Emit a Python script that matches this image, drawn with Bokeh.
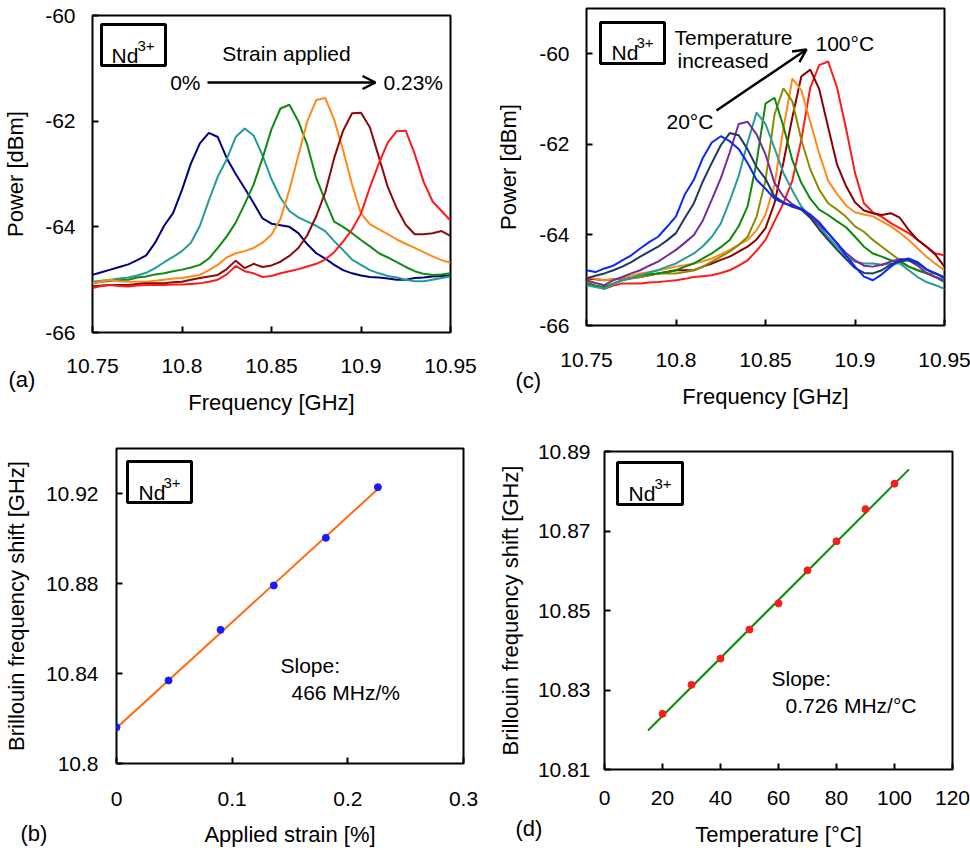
from bokeh.plotting import figure
from bokeh.layouts import column, row
from bokeh.models import (FixedTicker, CustomJSTickFormatter, Label, BoxAnnotation,
                          Arrow, OpenHead, Title)
from bokeh.embed import file_html
from bokeh.resources import INLINE

FONT = "Liberation Sans"

# ---------------- data ----------------
FREQ = [10.750, 10.755, 10.760, 10.765, 10.770, 10.775, 10.780, 10.785, 10.790, 10.795,
        10.800, 10.805, 10.810, 10.815, 10.820, 10.825, 10.830, 10.835, 10.840, 10.845,
        10.850, 10.855, 10.860, 10.865, 10.870, 10.875, 10.880, 10.885, 10.890, 10.895,
        10.900, 10.905, 10.910, 10.915, 10.920, 10.925, 10.930, 10.935, 10.940, 10.945,
        10.950]

# (a) spectra under strain, 0 % -> 0.23 %
A_S0 = [-64.91, -64.86, -64.81, -64.76, -64.71, -64.63, -64.54, -64.30, -63.98, -63.74,
        -63.30, -62.80, -62.42, -62.22, -62.30, -62.70, -63.00, -63.27, -63.55, -63.84,
        -63.94, -63.97, -64.00, -64.12, -64.33, -64.50, -64.60, -64.72, -64.82, -64.88,
        -64.92, -64.95, -64.96, -64.98, -65.00, -65.00, -64.97, -64.96, -64.94, -64.93,
        -64.92]
A_S1 = [-65.04, -65.02, -65.00, -64.98, -64.96, -64.92, -64.87, -64.78, -64.67, -64.57,
        -64.46, -64.30, -63.98, -63.50, -63.05, -62.72, -62.30, -62.14, -62.27, -62.65,
        -63.10, -63.45, -63.70, -63.82, -63.90, -63.98, -64.08, -64.27, -64.44, -64.62,
        -64.72, -64.82, -64.88, -64.93, -64.96, -65.00, -65.03, -65.03, -65.00, -64.97,
        -64.94]
A_S2 = [-65.07, -65.04, -65.02, -65.01, -65.00, -64.96, -64.94, -64.90, -64.88, -64.84,
        -64.81, -64.77, -64.72, -64.60, -64.40, -64.18, -63.92, -63.57, -63.20, -62.70,
        -62.15, -61.76, -61.69, -62.00, -62.45, -63.08, -63.50, -63.90, -64.00, -64.12,
        -64.25, -64.37, -64.50, -64.58, -64.67, -64.76, -64.84, -64.89, -64.91, -64.90,
        -64.88]
A_S3 = [-65.07, -65.03, -65.00, -65.03, -65.04, -65.04, -65.04, -65.02, -65.00, -64.98,
        -64.97, -64.94, -64.91, -64.82, -64.72, -64.58, -64.50, -64.46, -64.40, -64.30,
        -64.15, -63.85, -63.30, -62.65, -62.00, -61.60, -61.56, -61.97, -62.55, -63.20,
        -63.75, -63.95, -64.05, -64.14, -64.24, -64.32, -64.40, -64.48, -64.56, -64.63,
        -64.68]
A_S4 = [-65.13, -65.11, -65.10, -65.10, -65.10, -65.08, -65.07, -65.07, -65.07, -65.05,
        -65.04, -65.00, -64.97, -64.94, -64.91, -64.80, -64.64, -64.78, -64.70, -64.76,
        -64.73, -64.66, -64.55, -64.40, -64.16, -63.80, -63.35, -62.70, -62.18, -61.85,
        -61.84, -62.12, -62.68, -63.25, -63.65, -63.96, -64.14, -64.14, -64.12, -64.08,
        -64.17]
A_S5 = [-65.16, -65.12, -65.10, -65.12, -65.13, -65.11, -65.10, -65.10, -65.10, -65.09,
        -65.09, -65.08, -65.07, -65.04, -65.00, -64.90, -64.74, -64.84, -64.88, -64.95,
        -64.93, -64.88, -64.84, -64.80, -64.75, -64.70, -64.62, -64.48, -64.28, -64.05,
        -63.75, -63.25, -62.80, -62.40, -62.19, -62.18, -62.62, -63.15, -63.52, -63.70,
        -63.88]
A_COLORS = ["#00007f", "#259a9a", "#108a10", "#ff8a1a", "#8b0a0a", "#ff1a1a"]

# (c) spectra at 20, 30, ... 100 degC
C_T20 = [-64.78, -64.82, -64.74, -64.68, -64.56, -64.45, -64.30, -64.16, -64.04, -63.82,
         -63.59, -63.10, -62.78, -62.30, -61.96, -61.82, -61.93, -62.10, -62.41, -62.78,
         -62.98, -63.20, -63.30, -63.35, -63.42, -63.55, -63.72, -63.96, -64.18, -64.45,
         -64.70, -64.92, -65.00, -64.87, -64.70, -64.56, -64.52, -64.60, -64.76, -64.85,
         -64.95]
C_T30 = [-64.96, -64.90, -64.85, -64.78, -64.70, -64.60, -64.48, -64.37, -64.26, -64.12,
         -63.96, -63.62, -63.30, -62.82, -62.41, -62.02, -61.75, -61.80, -62.11, -62.50,
         -62.76, -63.15, -63.28, -63.38, -63.44, -63.62, -63.88, -64.11, -64.33, -64.53,
         -64.73, -64.84, -64.85, -64.78, -64.65, -64.58, -64.56, -64.63, -64.77, -64.85,
         -64.95]
C_T40 = [-65.00, -65.06, -65.11, -65.00, -64.93, -64.85, -64.78, -64.68, -64.59, -64.46,
         -64.33, -64.17, -64.00, -63.68, -63.22, -62.75, -62.18, -61.55, -61.50, -61.78,
         -62.22, -62.85, -63.15, -63.32, -63.44, -63.58, -63.78, -63.96, -64.19, -64.40,
         -64.56, -64.68, -64.70, -64.66, -64.59, -64.53, -64.56, -64.68, -64.84, -64.93,
         -65.00]
C_T50 = [-65.11, -65.15, -65.19, -65.08, -65.00, -64.95, -64.89, -64.83, -64.78, -64.70,
         -64.63, -64.52, -64.41, -64.25, -64.04, -63.75, -63.25, -62.70, -61.96, -61.30,
         -61.55, -62.08, -62.63, -63.02, -63.37, -63.60, -63.81, -64.05, -64.26, -64.47,
         -64.59, -64.63, -64.63, -64.66, -64.63, -64.63, -64.78, -64.93, -65.04, -65.11,
         -65.19]
C_T60 = [-65.07, -65.12, -65.15, -65.07, -65.00, -64.95, -64.89, -64.87, -64.85, -64.82,
         -64.78, -64.70, -64.63, -64.52, -64.41, -64.27, -64.11, -63.81, -63.37, -62.40,
         -61.10, -60.97, -61.60, -62.35, -62.85, -63.20, -63.44, -63.56, -63.70, -63.83,
         -64.04, -64.26, -64.41, -64.48, -64.56, -64.59, -64.70, -64.78, -64.85, -64.93,
         -65.04]
C_T70 = [-65.04, -65.12, -65.19, -65.08, -65.00, -64.96, -64.93, -64.89, -64.85, -64.85,
         -64.85, -64.82, -64.78, -64.70, -64.59, -64.48, -64.37, -64.22, -64.04, -63.60,
         -62.80, -61.35, -60.76, -61.05, -61.90, -62.55, -63.00, -63.30, -63.44, -63.60,
         -63.81, -63.93, -64.11, -64.26, -64.41, -64.56, -64.70, -64.78, -64.85, -64.85,
         -64.93]
C_T80 = [-64.93, -64.97, -65.00, -64.98, -64.96, -64.90, -64.85, -64.82, -64.78, -64.74,
         -64.70, -64.67, -64.63, -64.58, -64.52, -64.43, -64.33, -64.22, -64.11, -63.90,
         -63.55, -62.90, -61.65, -60.55, -60.80, -61.50, -62.20, -62.80, -63.10, -63.35,
         -63.50, -63.55, -63.59, -63.70, -63.81, -63.95, -64.11, -64.30, -64.48, -64.64,
         -64.78]
C_T90 = [-64.96, -64.98, -65.00, -64.98, -64.96, -64.95, -64.93, -64.89, -64.85, -64.82,
         -64.78, -64.78, -64.78, -64.70, -64.63, -64.55, -64.48, -64.37, -64.26, -64.10,
         -63.85, -63.30, -62.40, -61.40, -60.50, -60.35, -60.78, -61.62, -62.45, -62.92,
         -63.28, -63.46, -63.52, -63.56, -63.52, -63.62, -63.89, -64.11, -64.26, -64.44,
         -64.70]
C_T100 = [-65.07, -65.13, -65.19, -65.12, -65.07, -65.07, -65.07, -65.05, -65.04, -65.02,
          -65.00, -64.97, -64.93, -64.91, -64.89, -64.84, -64.78, -64.68, -64.56, -64.35,
          -64.11, -63.70, -63.30, -62.80, -61.90, -60.75, -60.25, -60.17, -60.75, -61.65,
          -62.63, -63.30, -63.50, -63.60, -63.74, -63.85, -63.96, -64.11, -64.26, -64.41,
          -64.45]
C_COLORS = ["#0a28ff", "#1f3a60", "#7a2a9a", "#2a9a9a", "#0a8a0a", "#8c8c00",
            "#ff8a1a", "#8b0000", "#ff1a1a"]

# (b) Brillouin frequency shift vs strain
STRAIN = [0.0, 0.045, 0.090, 0.136, 0.181, 0.226]
BFS_STRAIN = [10.8161, 10.8369, 10.8594, 10.8791, 10.9003, 10.9228]
FIT_STRAIN_X = [0.0, 0.226]
FIT_STRAIN_Y = [10.8158, 10.9220]

# (d) Brillouin frequency shift vs temperature
TEMP = [20, 30, 40, 50, 60, 70, 80, 90, 100]
BFS_TEMP = [10.8240, 10.8313, 10.8379, 10.8452, 10.8518, 10.8601, 10.8674, 10.8755, 10.8819]
FIT_TEMP_X = [15, 105]
FIT_TEMP_Y = [10.8198, 10.8855]

# ---------------- helpers ----------------
def make_fig(xr, yr, frame, borders):
    fl, fr, ft, fb = frame
    ml, mr, mt, mb = borders
    p = figure(x_range=xr, y_range=yr, frame_width=fr - fl, frame_height=fb - ft,
               min_border_left=ml, min_border_right=mr, min_border_top=mt,
               min_border_bottom=mb, output_backend="svg", toolbar_location=None)
    p.frame_align = False
    p.outline_line_color = "black"
    p.outline_line_width = 2
    p.outline_line_alpha = 1
    p.xgrid.visible = False
    p.ygrid.visible = False
    p.background_fill_color = "white"
    p.border_fill_color = "white"
    return p


def style_axes(p, xticks, yticks, xlabel, ylabel, xst, xlst, yst, ylst):
    fmt = "return String(tick)"
    for ax, ticks, lab, st, lst in ((p.xaxis[0], xticks, xlabel, xst, xlst),
                                     (p.yaxis[0], yticks, ylabel, yst, ylst)):
        ax.ticker = FixedTicker(ticks=ticks)
        ax.formatter = CustomJSTickFormatter(code=fmt)
        ax.axis_label = lab
        ax.axis_line_color = None
        ax.major_tick_in = 6
        ax.major_tick_out = 0
        ax.major_tick_line_width = 2
        ax.major_tick_line_color = "black"
        ax.minor_tick_line_color = None
        ax.major_label_text_font = FONT
        ax.major_label_text_font_size = "21px"
        ax.major_label_text_color = "black"
        ax.major_label_standoff = st
        ax.axis_label_text_font = FONT
        ax.axis_label_text_font_size = "22px"
        ax.axis_label_text_font_style = "normal"
        ax.axis_label_text_color = "black"
        ax.axis_label_standoff = lst


def panel_tag(p, text, offset, standoff):
    p.add_layout(Title(text=text, align="left", offset=offset, standoff=standoff,
                       vertical_align="top", text_font=FONT, text_font_size="22px",
                       text_font_style="normal", text_color="black"), "below")


def to_data(info, px, py):
    (fl, fr, ft, fb), (x0, x1), (y0, y1) = info
    x = x0 + (px - fl) / (fr - fl) * (x1 - x0)
    y = y1 - (py - ft) / (fb - ft) * (y1 - y0)
    return x, y


def add_text(p, info, px, py, text, size, align="left", baseline="middle"):
    x, y = to_data(info, px, py)
    p.add_layout(Label(x=x, y=y, text=text, text_font=FONT, text_font_size=f"{size}px",
                       text_align=align, text_baseline=baseline, text_color="black"))


def add_nd(p, info, box, nd, sup):
    l, r, t, b = box
    x0, y0 = to_data(info, l, b)
    x1, y1 = to_data(info, r, t)
    p.add_layout(BoxAnnotation(left=x0, right=x1, bottom=y0, top=y1, fill_color=None,
                               fill_alpha=0, line_color="black", line_alpha=1,
                               line_width=3))
    add_text(p, info, nd[0], nd[1], "Nd", 21, baseline="alphabetic")
    add_text(p, info, sup[0], sup[1], "3+", 15, baseline="alphabetic")


def add_arrow(p, info, start, end):
    xs, ys = to_data(info, *start)
    xe, ye = to_data(info, *end)
    p.add_layout(Arrow(end=OpenHead(size=13, line_width=2.5, line_color="black"),
                       x_start=xs, y_start=ys, x_end=xe, y_end=ye,
                       line_width=2.5, line_color="black"))


# ---------------- panel (a) ----------------
A_FRAME = (89, 447, 15, 332)
A_INFO = (A_FRAME, (10.75, 10.95), (-66, -60))
pa = make_fig((10.75, 10.95), (-66, -60), A_FRAME, (89, 33, 15, 86))
style_axes(pa, [10.75, 10.8, 10.85, 10.9, 10.95], [-66, -64, -62, -60],
           "Frequency [GHz]", "Power [dBm]", 26, 14, 17, 14)
for ys, c in zip([A_S0, A_S1, A_S2, A_S3, A_S4, A_S5], A_COLORS):
    pa.line(FREQ, ys, line_color=c, line_width=2)
add_nd(pa, A_INFO, (98, 162, 24, 65), (108, 55), (134, 45))
add_text(pa, A_INFO, 283, 53, "Strain applied", 21, align="center")
add_text(pa, A_INFO, 197, 82, "0%", 21, align="right")
add_arrow(pa, A_INFO, (204, 82), (372, 82))
add_text(pa, A_INFO, 380, 82, "0.23%", 21)
panel_tag(pa, "(a)", -84, -102)

# ---------------- panel (c) ----------------
C_FRAME = (583, 941, 8, 325)
C_INFO = (C_FRAME, (10.75, 10.95), (-66, -59))
pc = make_fig((10.75, 10.95), (-66, -59), C_FRAME, (103, 29, 8, 93))
style_axes(pc, [10.75, 10.8, 10.85, 10.9, 10.95], [-66, -64, -62, -60],
           "Frequency [GHz]", "Power [dBm]", 27, 14, 17, 15)
c_series = [C_T20, C_T30, C_T40, C_T50, C_T60, C_T70, C_T80, C_T90, C_T100]
for ys, c in reversed(list(zip(c_series, C_COLORS))):
    pc.line(FREQ, ys, line_color=c, line_width=2)
add_nd(pc, C_INFO, (597, 661, 22, 63), (608, 52), (633, 42))
add_text(pc, C_INFO, 671, 37, "Temperature", 21)
add_text(pc, C_INFO, 674, 60, "increased", 21)
add_arrow(pc, C_INFO, (713, 110), (803, 49))
add_text(pc, C_INFO, 812, 43, "100°C", 21)
add_text(pc, C_INFO, 663, 121, "20°C", 21)
panel_tag(pc, "(c)", -71, -88)

# ---------------- panel (b) ----------------
B_FRAME = (113, 460, 448, 763)
B_INFO = (B_FRAME, (0, 0.3), (10.8, 10.94))
pb = make_fig((0, 0.3), (10.8, 10.94), B_FRAME, (113, 20, 30, 87))
style_axes(pb, [0, 0.1, 0.2, 0.3], [10.8, 10.84, 10.88, 10.92],
           "Applied strain [%]", "Brillouin frequency shift [GHz]", 28, 13, 18, 14)
pb.line(FIT_STRAIN_X, FIT_STRAIN_Y, line_color="#ff6a10", line_width=2)
pb.scatter(STRAIN, BFS_STRAIN, size=7, color="#1a1aff")
add_nd(pb, B_INFO, (124, 188, 461, 502), (135, 492), (160, 482))
add_text(pb, B_INFO, 277, 665, "Slope:", 21)
add_text(pb, B_INFO, 288, 692, "466 MHz/%", 21)
panel_tag(pb, "(b)", -96, -58)

# ---------------- panel (d) ----------------
D_FRAME = (601, 949, 451, 769)
D_INFO = (D_FRAME, (0, 120), (10.81, 10.89))
pd_ = make_fig((0, 120), (10.81, 10.89), D_FRAME, (121, 21, 33, 81))
style_axes(pd_, [0, 20, 40, 60, 80, 100, 120], [10.81, 10.83, 10.85, 10.87, 10.89],
           "Temperature [°C]", "Brillouin frequency shift [GHz]", 21, 14, 14, 12)
pd_.line(FIT_TEMP_X, FIT_TEMP_Y, line_color="#0a8a0a", line_width=2)
pd_.scatter(TEMP, BFS_TEMP, size=7, color="#ff1a1a")
add_nd(pd_, D_INFO, (614, 679, 462, 504), (625, 493), (651, 483))
add_text(pd_, D_INFO, 768, 678, "Slope:", 21)
add_text(pd_, D_INFO, 782, 705, "0.726 MHz/°C", 21)
panel_tag(pd_, "(d)", -89, -68)

layout = column(row(pa, pc, spacing=0), row(pb, pd_, spacing=0), spacing=0)

open("out.html", "w").write(file_html(layout, INLINE))
